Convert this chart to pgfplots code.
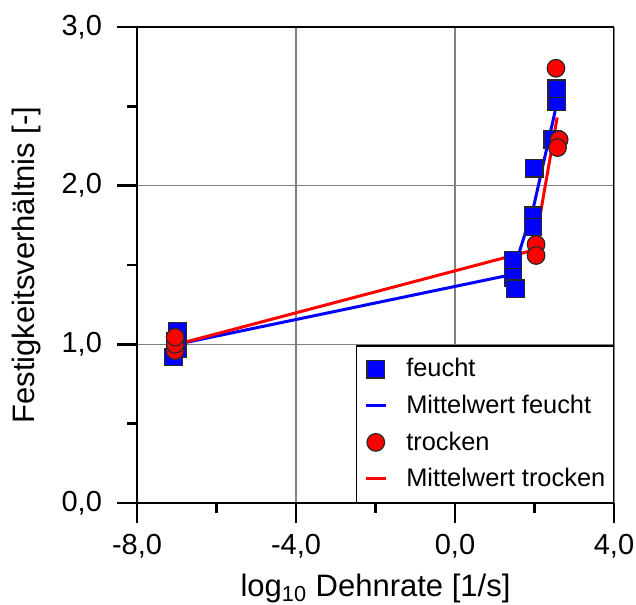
\documentclass[border=0pt]{standalone}
\usepackage{fontspec}
\setmainfont{Liberation Sans}
\usepackage{pgfplots}
\pgfplotsset{compat=1.18}

\definecolor{feucht}{RGB}{0,0,255}
\definecolor{trocken}{RGB}{255,0,0}
\definecolor{gitter}{RGB}{128,128,128}
\definecolor{rand}{RGB}{40,40,40}

% compact legend symbols
\pgfplotsset{
  markleg/.style={legend image code/.code={\draw[##1] plot coordinates {(5pt,0pt)};}},
  lineleg/.style={legend image code/.code={\draw[##1] (0pt,0pt) -- (10pt,0pt);}},
}

% measured strength ratios
\pgfplotstableread{
x      y
-7.08  0.92
-6.97  0.97
-7.03  1.02
-6.98  1.08
1.46   1.53
1.46   1.42
1.52   1.35
1.99   2.11
1.96   1.81
1.96   1.74
2.46   2.29
2.56   2.53
2.56   2.61
}\feuchtdata

\pgfplotstableread{
x      y
-7.04  0.96
-7.04  1.00
-7.04  1.045
2.04   1.63
2.04   1.56
2.54   2.74
2.62   2.29
2.58   2.24
}\trockendata

% mean values per strain rate
\pgfplotstableread{
x      y
-7.00  1.00
1.44   1.44
1.98   1.87
2.52   2.47
}\feuchtmittel

\pgfplotstableread{
x      y
-7.00  1.00
1.99   1.595
2.57   2.43
}\trockenmittel

\begin{document}
\begin{tikzpicture}
% fixed page frame around the 238.5pt x 238pt plot area
\path[use as bounding box] (-68.5pt,-50.5pt) rectangle (249.5pt,251.5pt);
\begin{axis}[
  scale only axis,
  width=238.5pt, height=238pt,
  xmin=-8, xmax=4, ymin=0, ymax=3,
  xtick={-8,-4,0,4}, minor xtick={-6,-2,2},
  ytick={0,1,2,3}, minor ytick={0.5,1.5,2.5},
  axis x line*=bottom, axis y line*=left,
  axis line style={line width=1.4pt, -},
  tick align=outside,
  major tick length=10pt, minor tick length=5pt,
  tick style={black, line width=1.4pt},
  minor tick style={black, line width=1.4pt},
  grid=major, major grid style={gitter, line width=0.6pt},
  /pgf/number format/.cd, fixed, fixed zerofill, precision=1, use comma, assume math mode=true,
  /pgfplots/.cd,
  tick label style={font=\fontsize{14.5}{17}\selectfont},
  xticklabel style={yshift=-2pt},
  yticklabel style={xshift=-4pt},
  xlabel={log\textsubscript{10} Dehnrate [1/s]},
  ylabel={Festigkeitsverhältnis [-]},
  xlabel shift=1pt,
  ylabel shift=3.5pt,
  label style={font=\fontsize{15.5}{18}\selectfont},
  legend cell align=left,
  legend style={at={(rel axis cs:1,0)}, anchor=south east,
    draw=black, line width=0.7pt, fill=white,
    font=\fontsize{12.7}{15}\selectfont,
    inner xsep=4pt, inner ysep=4.3pt, row sep=3.6pt,
    nodes={inner xsep=0pt, inner ysep=2pt},
    /tikz/every odd column/.append style={column sep=9.5pt}},
]
% data points
\addplot[only marks, mark=square*, mark size=4.4pt, draw=rand, fill=feucht, line width=0.6pt, forget plot]
  table[x=x, y=y] {\feuchtdata};
\addplot[only marks, mark=*, mark size=4.4pt, draw=rand, fill=trocken, line width=0.6pt, forget plot]
  table[x=x, y=y] {\trockendata};
% mean lines
\addplot[feucht, line width=1.5pt, no marks, forget plot] table[x=x, y=y] {\feuchtmittel};
\addplot[trocken, line width=1.5pt, no marks, forget plot] table[x=x, y=y] {\trockenmittel};

% outer frame, top and right
\draw[black, line width=0.9pt] (rel axis cs:0,1) -- (rel axis cs:1,1) -- (rel axis cs:1,0);

% legend
\addlegendimage{only marks, mark=square*, mark size=4.4pt, draw=rand, fill=feucht, line width=0.6pt, markleg}
\addlegendentry{feucht}
\addlegendimage{feucht, line width=1.5pt, lineleg}
\addlegendentry{Mittelwert feucht}
\addlegendimage{only marks, mark=*, mark size=4.4pt, draw=rand, fill=trocken, line width=0.6pt, markleg}
\addlegendentry{trocken}
\addlegendimage{trocken, line width=1.5pt, lineleg}
\addlegendentry{Mittelwert trocken}
\end{axis}
\end{tikzpicture}
\end{document}
